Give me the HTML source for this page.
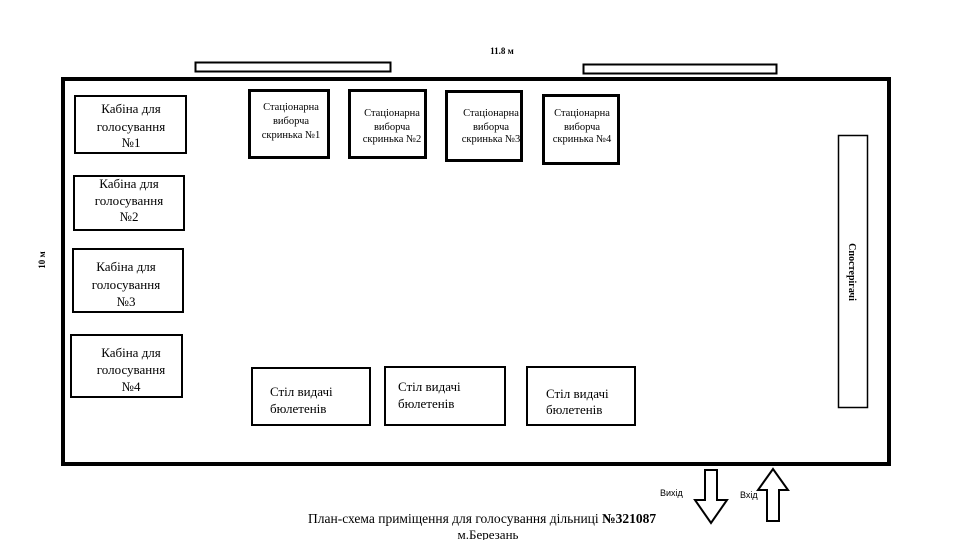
<!DOCTYPE html>
<html><head><meta charset="utf-8"><style>
body{margin:0;background:#fff;}
svg{display:block}
text{font-family:"Liberation Serif",serif;fill:#000}
.s{font-family:"Liberation Sans",sans-serif}
</style></head><body>
<svg width="960" height="540" viewBox="0 0 960 540" xmlns="http://www.w3.org/2000/svg">
<rect x="0" y="0" width="960" height="540" fill="#fff"/>
<rect x="63" y="79" width="826" height="385" fill="none" stroke="#000" stroke-width="4"/>
<rect x="195.5" y="62.5" width="195" height="9" fill="#fff" stroke="#000" stroke-width="2"/>
<rect x="583.5" y="64.5" width="193" height="9" fill="#fff" stroke="#000" stroke-width="2"/>
<text x="502" y="54" font-size="9" font-weight="bold" text-anchor="middle">11.8 м</text>
<text transform="translate(45,260) rotate(-90)" font-size="9" font-weight="bold" text-anchor="middle">10 м</text>

<g fill="#fff" stroke="#000" stroke-width="2">
<rect x="75" y="96" width="111" height="57"/>
<rect x="74" y="176" width="110" height="54"/>
<rect x="73" y="249" width="110" height="63"/>
<rect x="71" y="335" width="111" height="62"/>
<rect x="838.5" y="135.5" width="29" height="272" stroke-width="1.5"/>
<rect x="252" y="368" width="118" height="57"/>
<rect x="385" y="367" width="120" height="58"/>
<rect x="527" y="367" width="108" height="58"/>
</g>
<g fill="#fff" stroke="#000" stroke-width="3">
<rect x="249.5" y="90.5" width="79" height="67"/>
<rect x="349.5" y="90.5" width="76" height="67"/>
<rect x="446.5" y="91.5" width="75" height="69"/>
<rect x="543.5" y="95.5" width="75" height="68"/>
</g>

<g font-size="13" text-anchor="middle">
<text x="131" y="113">Кабіна для</text><text x="131" y="131">голосування</text><text x="131" y="147">№1</text>
<text x="129" y="188">Кабіна для</text><text x="129" y="205">голосування</text><text x="129" y="221">№2</text>
<text x="126" y="271">Кабіна для</text><text x="126" y="289">голосування</text><text x="126" y="306">№3</text>
<text x="131" y="357">Кабіна для</text><text x="131" y="374">голосування</text><text x="131" y="391">№4</text>
</g>
<g font-size="10.5" text-anchor="middle">
<text x="291" y="110">Стаціонарна</text><text x="291" y="124">виборча</text><text x="291" y="138">скринька №1</text>
<text x="392" y="116">Стаціонарна</text><text x="392" y="130">виборча</text><text x="392" y="142">скринька №2</text>
<text x="491" y="116">Стаціонарна</text><text x="491" y="130">виборча</text><text x="491" y="142">скринька №3</text>
<text x="582" y="116">Стаціонарна</text><text x="582" y="130">виборча</text><text x="582" y="142">скринька №4</text>
</g>
<g font-size="13">
<text x="270" y="396">Стіл видачі</text><text x="270" y="413">бюлетенів</text>
<text x="398" y="391">Стіл видачі</text><text x="398" y="408">бюлетенів</text>
<text x="546" y="398">Стіл видачі</text><text x="546" y="414">бюлетенів</text>
</g>
<text transform="translate(849,272) rotate(90)" font-size="10" font-weight="bold" text-anchor="middle">Спостерігачі</text>

<polygon points="705,470 717,470 717,500 727,500 711,523 695,500 705,500" fill="#fff" stroke="#000" stroke-width="2"/>
<polygon points="767,521 779,521 779,490 788,490 773,469 758,490 767,490" fill="#fff" stroke="#000" stroke-width="2"/>
<text class="s" x="660" y="496" font-size="9">Вихід</text>
<text class="s" x="740" y="498" font-size="9">Вхід</text>

<text x="308" y="523" font-size="13.5">План-схема приміщення для голосування дільниці <tspan font-weight="bold">№321087</tspan></text>
<text x="488" y="539" font-size="13" text-anchor="middle">м.Березань</text>
</svg>
</body></html>
